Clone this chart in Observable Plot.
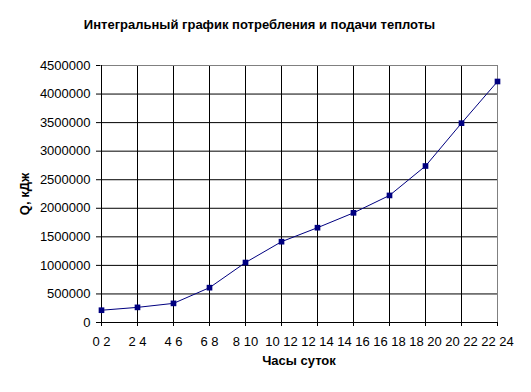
<!DOCTYPE html>
<html>
<head>
<meta charset="utf-8">
<script src="https://cdn.jsdelivr.net/npm/d3@7"></script>
<script src="https://cdn.jsdelivr.net/npm/@observablehq/plot@0.6"></script>
<style>
  html, body { margin: 0; padding: 0; background: #fff; }
  #wrap { width: 531px; height: 392px; position: relative; font-family: "Liberation Sans", Arial, sans-serif; }
  #title { position: absolute; left: 0; top: 0; width: 531px; height: 44px; text-align: center;
           font-size: 13px; font-weight: bold; line-height: 13px; padding-top: 18px; padding-right: 12px; box-sizing: border-box; color: #000; }
  #chart { position: absolute; left: 0; top: 44px; }
</style>
</head>
<body>
<div id="wrap">
  <div id="title">Интегральный график потребления и подачи теплоты</div>
  <div id="chart"></div>
</div>
<script>
const titleText = "Интегральный график потребления и подачи теплоты";
const xTitle = "Часы суток";
const yTitle = "Q, кДж";
const hours = ["0 2","2 4","4 6","6 8","8 10","10 12","12 14","14 16","16 18","18 20","20 22","22 24"];
const qValues = [215000, 265000, 335000, 610000, 1050000, 1415000, 1660000, 1920000, 2225000, 2740000, 3490000, 4220000];
const yTicks = [0, 500000, 1000000, 1500000, 2000000, 2500000, 3000000, 3500000, 4000000, 4500000];

document.getElementById("title").textContent = titleText;
const data = hours.map((h, i) => ({h, q: qValues[i]}));
const innerY = yTicks.slice(1, -1);
const innerX = hours.slice(1, -1);
const font = "Liberation Sans, Arial, sans-serif";

const chart = Plot.plot({
  width: 531,
  height: 348,
  marginLeft: 100,
  marginRight: 34,
  marginTop: 21,
  marginBottom: 70,
  style: {fontFamily: font, fontSize: "13px", background: "#fff", color: "#000"},
  x: {type: "point", domain: hours, padding: 0},
  y: {domain: [0, 4500000]},
  marks: [
    Plot.ruleY(innerY, {stroke: "#000", strokeWidth: 1}),
    Plot.ruleX(innerX, {stroke: "#000", strokeWidth: 1}),
    Plot.ruleY([yTicks[yTicks.length - 1]], {stroke: "#808080", strokeWidth: 1}),
    Plot.ruleX([hours[hours.length - 1]], {stroke: "#808080", strokeWidth: 1}),
    Plot.ruleY([0], {stroke: "#000", strokeWidth: 1}),
    Plot.ruleX([hours[0]], {stroke: "#000", strokeWidth: 1}),
    Plot.axisY({ticks: yTicks, tickFormat: d => String(d), tickSize: 4, tickPadding: 6, label: null, fontSize: 13}),
    Plot.axisX({tickSize: 4, tickPadding: 10, label: null, fontSize: 13}),
    Plot.line(data, {x: "h", y: "q", stroke: "#000080", strokeWidth: 1}),
    Plot.dot(data, {x: "h", y: "q", symbol: "square", r: 3.2, fill: "#000080", stroke: "none"}),
    Plot.text([xTitle], {frameAnchor: "bottom", dy: 42, fontWeight: "bold", fontSize: 13, textAnchor: "middle"}),
    Plot.text([yTitle], {frameAnchor: "left", dx: -76, rotate: -90, fontWeight: "bold", fontSize: 13, textAnchor: "middle"})
  ]
});
document.getElementById("chart").appendChild(chart);
</script>
</body>
</html>
